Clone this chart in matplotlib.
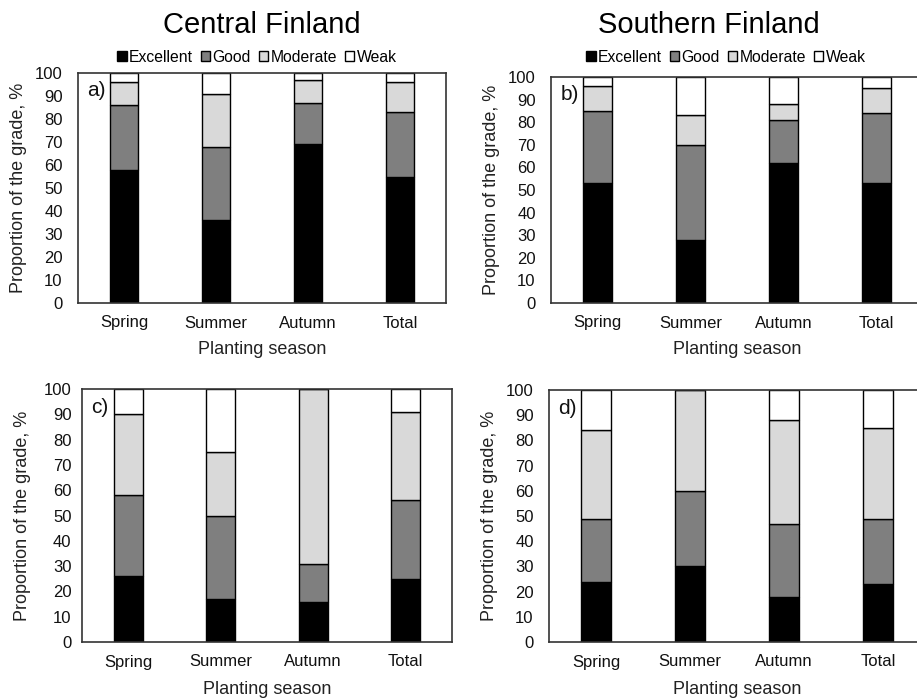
import matplotlib.pyplot as plt
import numpy as np

plt.rcParams['font.family'] = ['Liberation Sans', 'DejaVu Sans']

seasons = ["Spring", "Summer", "Autumn", "Total"]
grades = ["Excellent", "Good", "Moderate", "Weak"]
colors = ["#000000", "#7f7f7f", "#d9d9d9", "#ffffff"]

# share of each grade (%) per planting season
a_vals = [[58, 36, 69, 55],
          [28, 32, 18, 28],
          [10, 23, 10, 13],
          [4, 9, 3, 4]]
b_vals = [[53, 28, 62, 53],
          [32, 42, 19, 31],
          [11, 13, 7, 11],
          [4, 17, 12, 5]]
c_vals = [[26, 17, 16, 25],
          [32, 33, 15, 31],
          [32, 25, 69, 35],
          [10, 25, 0, 9]]
d_vals = [[24, 30, 18, 23],
          [25, 30, 29, 26],
          [35, 40, 41, 36],
          [16, 0, 12, 15]]

W, H = 917, 699
fig = plt.figure(figsize=(W / 100, H / 100), dpi=100)


def box(left, top, right, bottom):
    return [left / W, 1 - bottom / H, (right - left) / W, (bottom - top) / H]


# tag, data, (left, top, right, bottom) px, ylabel x px, xlabel y px, tick pad, legend centre
panels = [
    ("a)", a_vals, (78, 73, 446, 303), 19, 350, 11, (257, 57)),
    ("b)", b_vals, (551, 77, 923, 303), 491, 350, 11, (726, 57)),
    ("c)", c_vals, (82, 389, 452, 642), 23, 690, 7.5, None),
    ("d)", d_vals, (549, 390, 925, 642), 490, 690, 11, None),
]

x = np.arange(len(seasons))
for tag, vals, px, ylab_x, xlab_y, ypad, leg in panels:
    left, top, right, bottom = px
    ax = fig.add_axes(box(*px))
    base = np.zeros(len(seasons))
    for g, c, v in zip(grades, colors, vals):
        ax.bar(x, v, 0.31, bottom=base, color=c, edgecolor="black",
               linewidth=1.0, label=g, zorder=2)
        base = base + np.array(v)
    ax.set_xlim(-0.5, 3.5)
    ax.set_ylim(0, 100)
    ax.set_yticks(range(0, 101, 10))
    ax.set_xticks(x)
    ax.set_xticklabels(seasons)
    ax.tick_params(length=0, labelsize=12, colors="#111111")
    ax.tick_params(axis="y", pad=ypad)
    ax.tick_params(axis="x", pad=9)
    for s in ax.spines.values():
        s.set_color("#333333")
        s.set_linewidth(1.2)
    ax.set_ylabel("Proportion of the grade, %", fontsize=13, color="#222222", va="center")
    ax.yaxis.set_label_coords((ylab_x - left) / (right - left), 0.5)
    ax.set_xlabel("Planting season", fontsize=13, color="#222222", va="center")
    ax.xaxis.set_label_coords(0.5, (bottom - xlab_y) / (bottom - top))
    ax.text(0.025, 0.965, tag, transform=ax.transAxes, fontsize=15,
            va="top", ha="left", color="#111111")
    if leg is not None:
        ax.legend(loc="center", bbox_to_anchor=(leg[0] / W, 1 - leg[1] / H),
                  bbox_transform=fig.transFigure,
                  ncol=4, frameon=False, fontsize=11.3, handlelength=0.6, handleheight=0.6,
                  handletextpad=0.15, columnspacing=0.5, borderaxespad=0, borderpad=0)

fig.text(262 / W, 1 - 25 / H, "Central Finland", fontsize=21, ha="center", va="center")
fig.text(709 / W, 1 - 25 / H, "Southern Finland", fontsize=21, ha="center", va="center")

fig.savefig("out.png", dpi=100)
